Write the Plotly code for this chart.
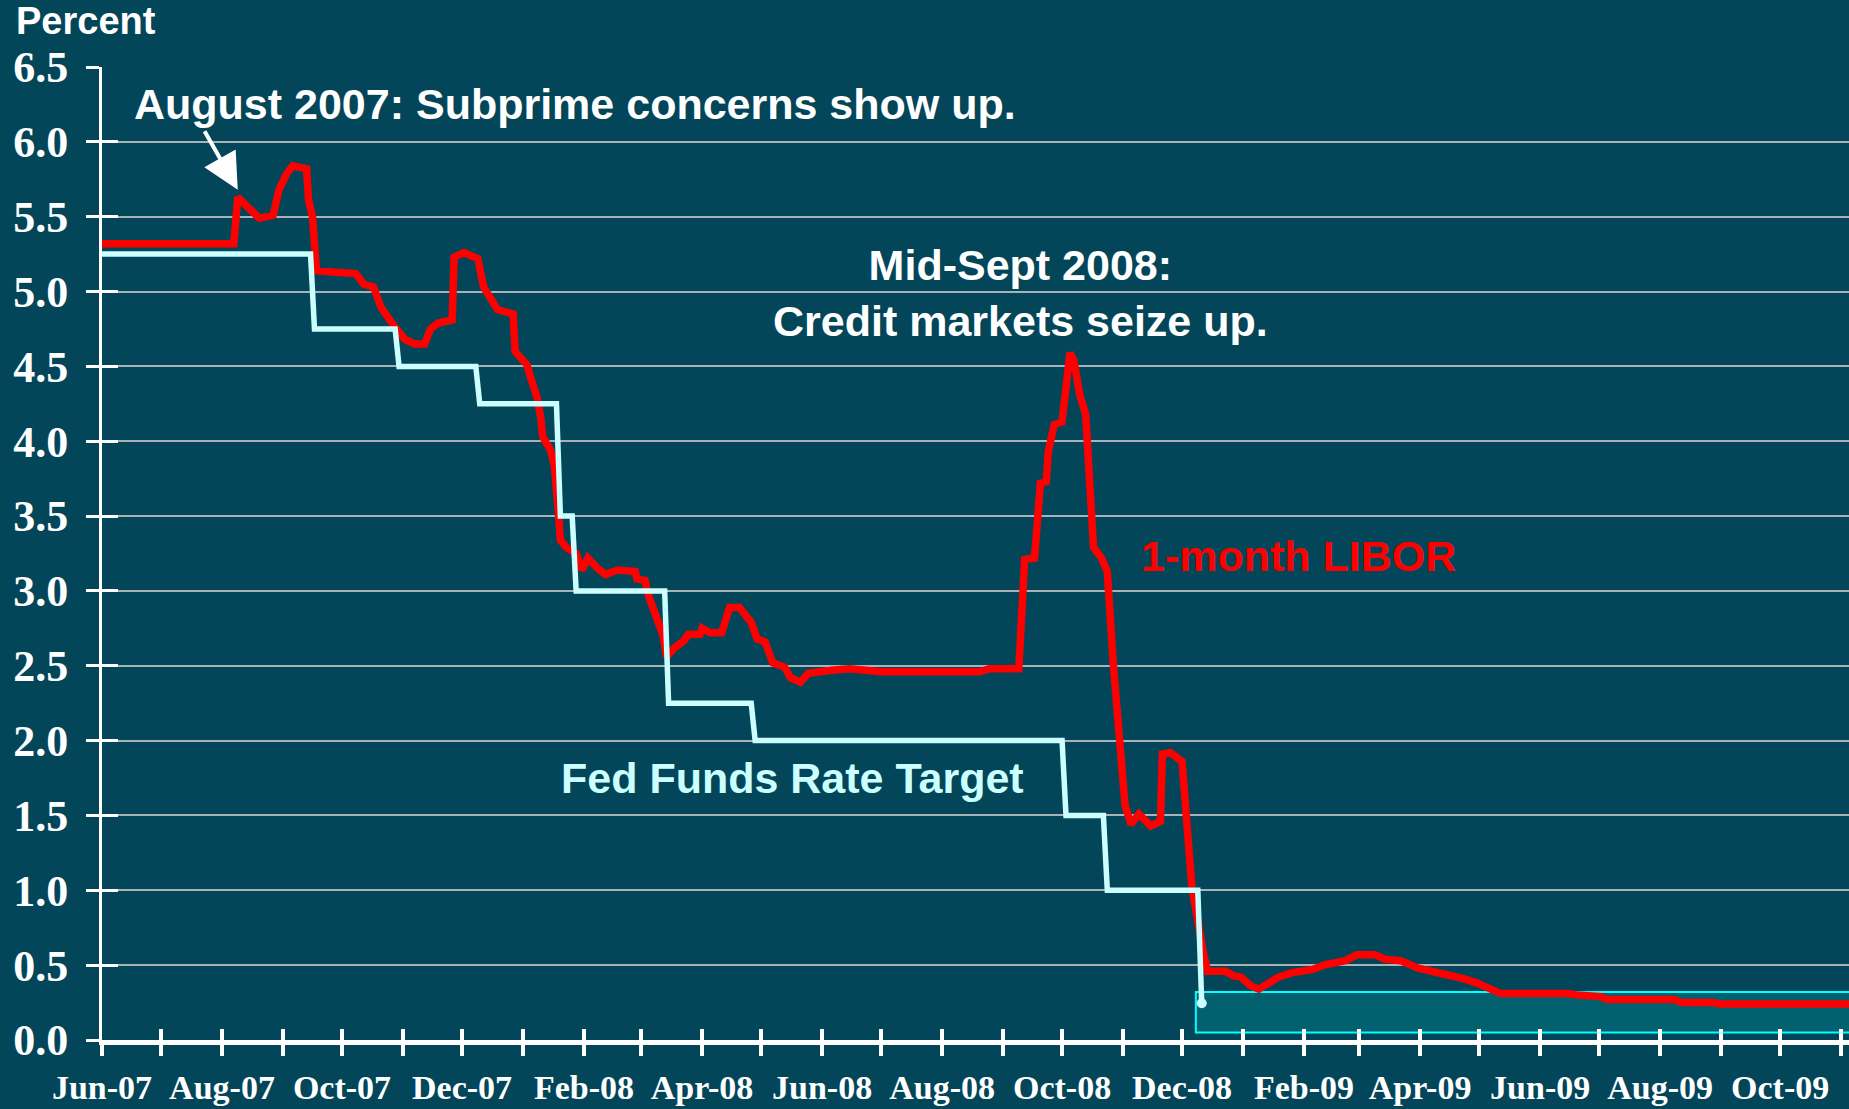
import plotly.graph_objects as go
import pandas as pd

# ---------------- data ----------------
libor_dates = [
    "2007-06-01", "2007-08-07", "2007-08-09", "2007-08-14", "2007-08-20", "2007-08-27",
    "2007-08-30", "2007-09-03", "2007-09-06", "2007-09-13", "2007-09-14", "2007-09-16",
    "2007-09-18", "2007-09-26", "2007-10-08", "2007-10-12", "2007-10-17", "2007-10-21",
    "2007-10-24", "2007-10-28", "2007-11-02", "2007-11-07", "2007-11-12", "2007-11-15",
    "2007-11-19", "2007-11-26", "2007-11-27", "2007-12-02", "2007-12-09", "2007-12-12",
    "2007-12-19", "2007-12-27", "2007-12-28", "2007-12-31", "2008-01-03", "2008-01-05",
    "2008-01-08", "2008-01-10", "2008-01-11", "2008-01-15", "2008-01-17", "2008-01-19",
    "2008-01-20", "2008-01-23", "2008-01-28", "2008-01-31", "2008-02-03", "2008-02-08",
    "2008-02-12", "2008-02-18", "2008-02-27", "2008-02-28", "2008-03-03", "2008-03-05",
    "2008-03-09", "2008-03-12", "2008-03-14", "2008-03-18", "2008-03-23", "2008-03-25",
    "2008-03-31", "2008-04-01", "2008-04-05", "2008-04-11", "2008-04-15", "2008-04-20",
    "2008-04-26", "2008-04-29", "2008-05-03", "2008-05-07", "2008-05-13", "2008-05-16",
    "2008-05-21", "2008-05-25", "2008-06-06", "2008-06-15", "2008-07-01", "2008-08-20",
    "2008-08-25", "2008-09-09", "2008-09-12", "2008-09-17", "2008-09-20", "2008-09-23",
    "2008-09-24", "2008-09-27", "2008-10-01", "2008-10-03", "2008-10-05", "2008-10-07",
    "2008-10-10", "2008-10-13", "2008-10-15", "2008-10-17", "2008-10-21", "2008-10-24",
    "2008-10-27", "2008-10-30", "2008-11-02", "2008-11-05", "2008-11-09", "2008-11-15",
    "2008-11-20", "2008-11-21", "2008-11-25", "2008-12-01", "2008-12-04", "2008-12-06",
    "2008-12-12", "2008-12-14", "2008-12-23", "2008-12-27", "2008-12-31", "2009-01-05",
    "2009-01-09", "2009-01-14", "2009-01-19", "2009-01-26", "2009-02-05", "2009-02-11",
    "2009-02-22", "2009-02-28", "2009-03-09", "2009-03-14", "2009-03-22", "2009-03-31",
    "2009-04-08", "2009-04-15", "2009-04-23", "2009-04-30", "2009-05-07", "2009-05-12",
    "2009-06-15", "2009-06-20", "2009-07-02", "2009-07-05", "2009-08-08", "2009-08-12",
    "2009-08-28", "2009-08-31", "2009-11-05",
]
libor_values = [
    5.32, 5.32, 5.63, 5.57, 5.49, 5.51,
    5.68, 5.79, 5.84, 5.82, 5.61, 5.50,
    5.14, 5.13, 5.12, 5.05, 5.03, 4.89,
    4.83, 4.76, 4.68, 4.65, 4.65, 4.75,
    4.79, 4.81, 5.23, 5.26, 5.22, 5.03,
    4.88, 4.85, 4.60, 4.56, 4.51, 4.42,
    4.30, 4.16, 4.03, 3.94, 3.83, 3.52,
    3.34, 3.29, 3.25, 3.14, 3.22, 3.15,
    3.11, 3.14, 3.13, 3.08, 3.07, 2.96,
    2.82, 2.71, 2.56, 2.62, 2.67, 2.71,
    2.71, 2.75, 2.72, 2.72, 2.89, 2.89,
    2.79, 2.68, 2.66, 2.52, 2.49, 2.42,
    2.39, 2.45, 2.47, 2.48, 2.46, 2.46,
    2.48, 2.48, 3.21, 3.22, 3.72, 3.73,
    3.93, 4.11, 4.13, 4.33, 4.59, 4.54,
    4.31, 4.18, 3.67, 3.29, 3.22, 3.13,
    2.52, 2.00, 1.57, 1.44, 1.51, 1.43,
    1.46, 1.91, 1.92, 1.86, 1.38, 1.02,
    0.57, 0.46, 0.46, 0.43, 0.42, 0.36,
    0.34, 0.38, 0.42, 0.45, 0.47, 0.50,
    0.53, 0.57, 0.57, 0.54, 0.53, 0.48,
    0.46, 0.44, 0.41, 0.38, 0.335, 0.31,
    0.31, 0.30, 0.29, 0.27, 0.27, 0.25,
    0.25, 0.24, 0.24,
]

fed_dates = [
    "2007-06-01", "2007-09-15", "2007-09-17", "2007-10-28", "2007-10-30",
    "2007-12-08", "2007-12-10", "2008-01-18", "2008-01-20", "2008-01-26",
    "2008-01-28", "2008-03-13", "2008-03-15", "2008-04-26", "2008-04-28",
    "2008-10-01", "2008-10-03", "2008-10-22", "2008-10-24", "2008-12-09",
    "2008-12-11",
]
fed_values = [
    5.25, 5.25, 4.75, 4.75, 4.50,
    4.50, 4.25, 4.25, 3.50, 3.50,
    3.00, 3.00, 2.25, 2.25, 2.00,
    2.00, 1.50, 1.50, 1.00, 1.00,
    0.245,
]

# target-range box (zero lower bound period)
box_start = "2008-12-08"
box_end = "2009-11-15"
box_low = 0.05
box_high = 0.32

tick_labels = [
    "Jun-07", "", "Aug-07", "", "Oct-07", "", "Dec-07", "", "Feb-08", "", "Apr-08", "",
    "Jun-08", "", "Aug-08", "", "Oct-08", "", "Dec-08", "", "Feb-09", "", "Apr-09", "",
    "Jun-09", "", "Aug-09", "", "Oct-09", "",
]
y_ticks = [0.0, 0.5, 1.0, 1.5, 2.0, 2.5, 3.0, 3.5, 4.0, 4.5, 5.0, 5.5, 6.0, 6.5]

# ---------------- figure ----------------
W, H = 1849, 1109
ML, MR, MT, MB = 102, 0, 67, 69
BG = "#03465A"
GRID = "#A9B2B6"
RED = "#FF0000"
FED = "#CCFFFF"
SANS = "Arial, Liberation Sans, sans-serif"
SERIF = "Times New Roman, Liberation Serif, serif"

tick_dates = pd.date_range("2007-06-01", periods=len(tick_labels), freq="MS").strftime("%Y-%m-%d").tolist()
x_range = ["2007-06-01", "2009-11-05"]

fig = go.Figure()

fig.add_shape(type="rect", xref="x", yref="y", x0=box_start, x1=box_end,
              y0=box_low, y1=box_high, fillcolor="#03616F",
              line=dict(color="#00FFFF", width=2), layer="below")

fig.add_trace(go.Scatter(x=libor_dates, y=libor_values, mode="lines",
                         line=dict(color=RED, width=7.5), hoverinfo="skip",
                         showlegend=False))
fig.add_trace(go.Scatter(x=fed_dates, y=fed_values, mode="lines",
                         line=dict(color=FED, width=5.5), hoverinfo="skip",
                         showlegend=False))
fig.add_trace(go.Scatter(x=[fed_dates[-1]], y=[fed_values[-1]], mode="markers",
                         marker=dict(color=FED, size=10), hoverinfo="skip",
                         showlegend=False))
# invisible trace so the overlay axes (inner tick halves) get drawn
fig.add_trace(go.Scatter(x=[fed_dates[0]], y=[0], mode="markers", xaxis="x2", yaxis="y2",
                         marker=dict(opacity=0), hoverinfo="skip", showlegend=False))

tick_font_x = dict(family=SERIF, size=34, color="white", weight="bold")
tick_font_y = dict(family=SERIF, size=44, color="white", weight="bold")

fig.update_layout(
    width=W, height=H,
    margin=dict(l=ML, r=MR, t=MT, b=MB, autoexpand=False),
    paper_bgcolor=BG, plot_bgcolor=BG,
    xaxis=dict(
        type="date", range=x_range, tickvals=tick_dates, ticktext=tick_labels,
        showgrid=False, zeroline=False, showline=True, linecolor="white", linewidth=5,
        ticks="outside", ticklen=11, tickwidth=4, tickcolor="white",
        tickfont=tick_font_x, ticklabelstandoff=2, automargin=False,
    ),
    xaxis2=dict(
        type="date", range=x_range, overlaying="x", tickvals=tick_dates,
        showticklabels=False, showgrid=False, zeroline=False, showline=False,
        ticks="inside", ticklen=11, tickwidth=4, tickcolor="white", matches="x",
    ),
    yaxis=dict(
        range=[0, 6.5], tickvals=y_ticks, ticktext=[f"{v:.1f}" for v in y_ticks],
        showgrid=True, gridcolor=GRID, gridwidth=1.5, zeroline=False,
        showline=True, linecolor="white", linewidth=3,
        ticks="outside", ticklen=13, tickwidth=3, tickcolor="white",
        tickfont=tick_font_y, ticklabelstandoff=9, automargin=False,
    ),
    yaxis2=dict(
        range=[0, 6.5], overlaying="y", tickvals=y_ticks, showticklabels=False,
        showgrid=False, zeroline=False, showline=False,
        ticks="inside", ticklen=16, tickwidth=3, tickcolor="white", matches="y",
    ),
)

ann_font = dict(family=SANS, size=43, color="white")
fig.add_annotation(xref="paper", yref="paper", x=-ML / (W - ML - MR) + 14 / (W - ML - MR),
                   y=1 + (MT - 21) / (H - MT - MB), xanchor="left", yanchor="middle",
                   text="<b>Percent</b>", showarrow=False,
                   font=dict(family=SANS, size=38, color="white"))
fig.add_annotation(x="2007-06-16", y=6.25, xanchor="left", yanchor="middle",
                   text="<b>August 2007: Subprime concerns show up.</b>",
                   showarrow=False, font=ann_font)
fig.add_annotation(x="2007-08-09", y=5.68, text="", showarrow=True, ax=-34, ay=-60,
                   arrowhead=2, arrowsize=1.8, arrowwidth=4, arrowcolor="white",
                   standoff=0)
fig.add_annotation(x="2008-09-10", y=4.99, xanchor="center", yanchor="middle",
                   text="<b>Mid-Sept 2008:<br>Credit markets seize up.</b>",
                   showarrow=False, font=ann_font)
fig.add_annotation(x="2008-11-09", y=3.23, xanchor="left", yanchor="middle",
                   text="<b>1-month LIBOR</b>", showarrow=False,
                   font=dict(family=SANS, size=43, color=RED))
fig.add_annotation(x="2008-05-17", y=1.75, xanchor="center", yanchor="middle",
                   text="<b>Fed Funds Rate Target</b>", showarrow=False,
                   font=dict(family=SANS, size=43, color=FED))

fig.write_html("out.html")
